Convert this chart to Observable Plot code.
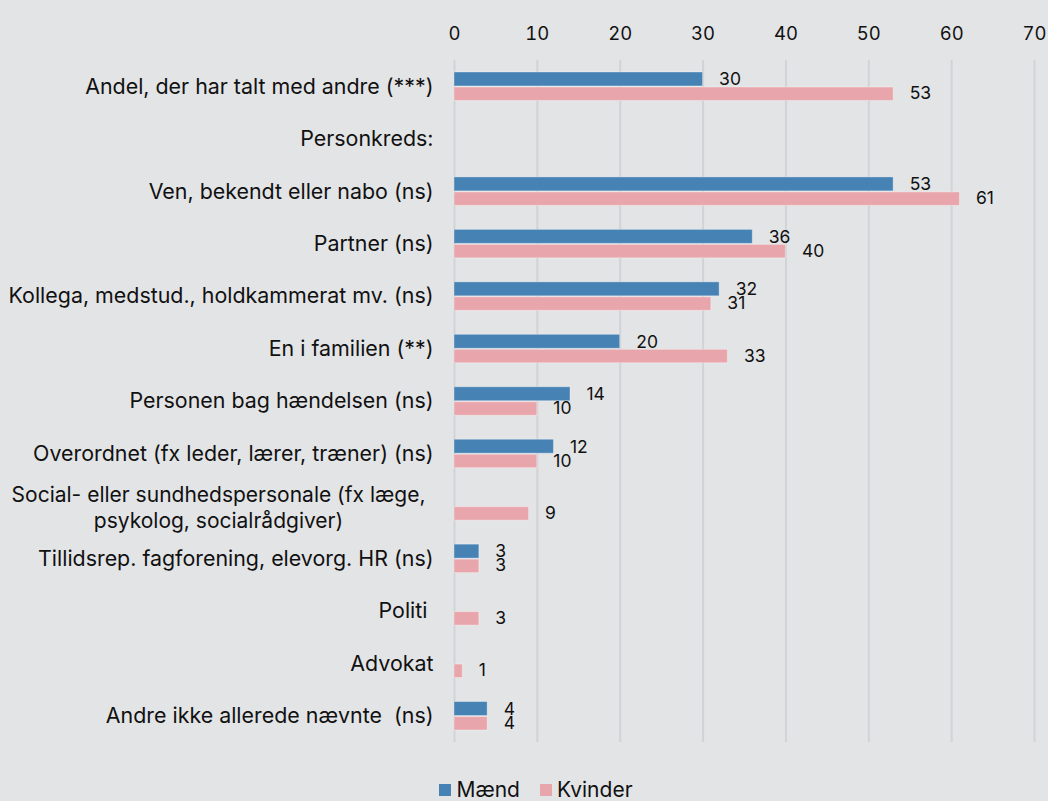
<!DOCTYPE html>
<html>
<head>
<meta charset="utf-8">
<script src="https://cdn.jsdelivr.net/npm/d3@7"></script>
<script src="https://cdn.jsdelivr.net/npm/@observablehq/plot@0.6"></script>
<style>
  html, body { margin: 0; padding: 0; background: #e3e4e6; }
  body { width: 1048px; height: 801px; overflow: hidden; font-family: Inter, "Noto Sans", sans-serif; }
  #chart svg { display: block; }
  #legend { display: flex; justify-content: center; align-items: center; gap: 20px; font-size: 21px; color: #111; margin-top: 17px; padding-left: 24px; }
  .item { display: flex; align-items: center; gap: 5px; }
  .sw { width: 12px; height: 12px; display: inline-block; }
</style>
</head>
<body>
<div id="chart"></div>
<div id="legend"></div>
<script>
const categories = [
  "Andel, der har talt med andre (***)",
  "Personkreds:",
  "Ven, bekendt eller nabo (ns)",
  "Partner (ns)",
  "Kollega, medstud., holdkammerat mv. (ns)",
  "En i familien (**)",
  "Personen bag hændelsen (ns)",
  "Overordnet (fx leder, lærer, træner) (ns)",
  "Social- eller sundhedspersonale (fx læge,\npsykolog, socialrådgiver)",
  "Tillidsrep. fagforening, elevorg. HR (ns)",
  "Politi ",
  "Advokat",
  "Andre ikke allerede nævnte  (ns)"
];
const maend   = [30, null, 53, 36, 32, 20, 14, 12, null, 3, null, null, 4];
const kvinder = [53, null, 61, 40, 31, 33, 10, 10, 9, 3, 3, 1, 4];
const series = ["Mænd", "Kvinder"];
const colors = ["#4682b4", "#e8a6ac"];
const xTicks = [0, 10, 20, 30, 40, 50, 60, 70];
const wrappedCategory = categories[8];

const mRows = categories.map((c, i) => ({cat: c, value: maend[i]})).filter(d => d.value != null);
const kRows = categories.map((c, i) => ({cat: c, value: kvinder[i]})).filter(d => d.value != null);

const chart = Plot.plot({
  width: 1048,
  height: 760,
  marginTop: 60,
  marginBottom: 18,
  marginLeft: 454,
  marginRight: 14,
  style: {background: "transparent", fontFamily: "Inter, 'Noto Sans', sans-serif", color: "#111"},
  x: {domain: [0, 70], label: null},
  y: {domain: categories, padding: 0, round: false, label: null},
  marks: [
    Plot.gridX(xTicks, {stroke: "#d2d3d6", strokeOpacity: 1, strokeWidth: 2}),
    Plot.axisX(xTicks, {anchor: "top", tickSize: 0, tickPadding: 21, fontSize: 18.5, label: null}),
    Plot.axisY(categories.filter(c => c !== wrappedCategory), {tickSize: 0, tickPadding: 21, fontSize: 21.4, label: null}),
    Plot.axisY([wrappedCategory], {tickSize: 0, tickPadding: 236, textAnchor: "middle", fontSize: 21, lineHeight: 1.27, label: null}),
    Plot.barX(mRows, {x: "value", y: "cat", fill: colors[0], insetTop: 12, insetBottom: 26.5, stroke: "#ffffff", strokeOpacity: 0.35, strokeWidth: 1}),
    Plot.barX(kRows, {x: "value", y: "cat", fill: colors[1], insetTop: 27, insetBottom: 12, stroke: "#ffffff", strokeOpacity: 0.35, strokeWidth: 1}),
    Plot.text(mRows, {x: "value", y: "cat", text: d => String(d.value), textAnchor: "start", dx: 16, dy: -7, fontSize: 17.5, fill: "#111"}),
    Plot.text(kRows, {x: "value", y: "cat", text: d => String(d.value), textAnchor: "start", dx: 16, dy: 7, fontSize: 17.5, fill: "#111"})
  ]
});
chart.querySelectorAll("text").forEach(t => t.setAttribute("xml:space", "preserve"));
document.getElementById("chart").appendChild(chart);

const legend = document.getElementById("legend");
series.forEach((s, i) => {
  const item = document.createElement("div");
  item.className = "item";
  const sw = document.createElement("span");
  sw.className = "sw";
  sw.style.background = colors[i];
  const label = document.createElement("span");
  label.textContent = s;
  item.appendChild(sw);
  item.appendChild(label);
  legend.appendChild(item);
});
</script>
</body>
</html>
